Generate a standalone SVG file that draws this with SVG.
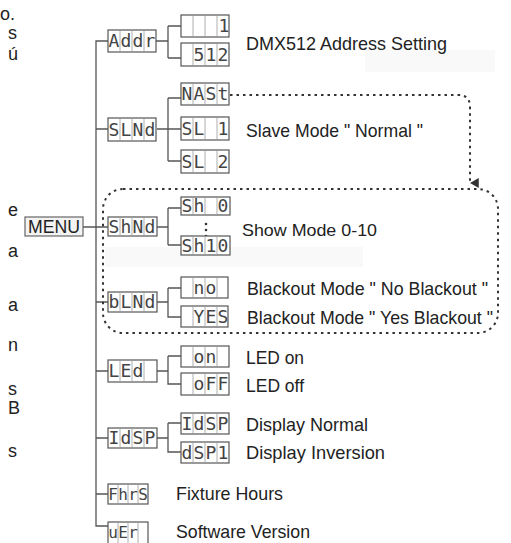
<svg xmlns="http://www.w3.org/2000/svg" width="511" height="543" viewBox="0 0 511 543">
<style>
.frame{fill:#fff;stroke:#555;stroke-width:1.2}
.div{fill:none;stroke:#999;stroke-width:0.8}
.seg{font-family:"DejaVu Sans Mono","Liberation Mono",monospace;font-size:18px;fill:#444;text-anchor:middle}
.segn{font-family:"DejaVu Sans Mono","Liberation Mono",monospace;font-size:16px;fill:#444;text-anchor:middle}
.lbl{font-family:"Liberation Sans",Arial,sans-serif;font-size:19px;fill:#222}
.frag{font-family:"Liberation Sans",Arial,sans-serif;font-size:18px;fill:#222}
.line{fill:none;stroke:#555;stroke-width:1.3}
.dot{fill:none;stroke:#333;stroke-width:2;stroke-dasharray:2.5 4}
</style>
<defs>
<marker id="ah" markerWidth="10" markerHeight="10" refX="4" refY="7" orient="auto" markerUnits="userSpaceOnUse" viewBox="0 0 8 8">
<path d="M0 0 L8 0 L4 7 Z" fill="#333"/>
</marker>
</defs>
<rect width="511" height="543" fill="#fff"/>
<g id="bg-marks" fill="#f9f9f9">
<rect x="365" y="50" width="130" height="22"/>
<rect x="105" y="247" width="258" height="20"/>
</g>
<g id="margin-fragments" class="frag">
<text x="0" y="20">o.</text>
<text x="8" y="39">s</text>
<text x="8" y="60">ú</text>
<text x="8" y="216">e</text>
<text x="8" y="257">a</text>
<text x="8" y="311">a</text>
<text x="8" y="351">n</text>
<text x="8" y="395">s</text>
<text x="8" y="414">B</text>
<text x="8" y="457">s</text>
</g>
<g id="connectors">
<path class="line" d="M108 41H96V526H108M96 129H108M83 227H108M96 302H108M96 371H108M96 438H108M96 494H108"/>
<path class="line" d="M156 41H168M168 26V58M168 26H181M168 58H181"/>
<path class="line" d="M157 129H181M168 98V161M168 98H181M168 161H181"/>
<path class="line" d="M157 227H168M168 208V245M168 208H181M168 245H181"/>
<path class="line" d="M157 302H168M168 288V317H181M168 288H181"/>
<path class="line" d="M157 371H168M168 356V384H181M168 356H181"/>
<path class="line" d="M157 438H168M168 423V452H181M168 423H181"/>
<path class="dot" d="M230 95H458Q470 95 470 107V183" marker-end="url(#ah)"/>
<rect class="dot" x="103" y="189" width="395" height="144" rx="20"/>
<g fill="#333"><circle cx="206" cy="224" r="1.3"/><circle cx="206" cy="230" r="1.3"/><circle cx="206" cy="236" r="1.3"/></g>
</g>
<g id="n-menu">
<rect x="25" y="217" width="58" height="19" fill="#f3f3f3" stroke="#666" stroke-width="1.2"/>
<text x="54" y="233" font-family="Liberation Sans,Arial,sans-serif" font-size="18" fill="#222" text-anchor="middle" textLength="52" lengthAdjust="spacingAndGlyphs">MENU</text>
</g>
<g id="n-addr">
<rect class="frame" x="108" y="30" width="48" height="22"/><path class="div" d="M120 30v22M132 30v22M144 30v22"/>
<text class="seg" x="114 126 138 150" y="47">Addr</text>
</g>
<g id="n-addr1">
<rect class="frame" x="181" y="15" width="48" height="22"/><path class="div" d="M193 15v22M205 15v22M217 15v22"/>
<text class="seg" x="224" y="32">1</text>
</g>
<g id="n-addr512">
<rect class="frame" x="181" y="43" width="48" height="23"/><path class="div" d="M193 43v23M205 43v23M217 43v23"/>
<text class="seg" x="199 211 223" y="61">512</text>
</g>
<g id="n-slnd">
<rect class="frame" x="108" y="118" width="48" height="23"/><path class="div" d="M120 118v23M132 118v23M144 118v23"/>
<text class="seg" x="114 126 138 150" y="136">SLNd</text>
</g>
<g id="n-nast">
<rect class="frame" x="181" y="83" width="48" height="22"/><path class="div" d="M193 83v22M205 83v22M217 83v22"/>
<text class="seg" x="187 199 211 223" y="100">NASt</text>
</g>
<g id="n-sl1">
<rect class="frame" x="181" y="117" width="48" height="23"/><path class="div" d="M193 117v23M205 117v23M217 117v23"/>
<text class="seg" x="187 199 211 223" y="135">SL 1</text>
</g>
<g id="n-sl2">
<rect class="frame" x="181" y="150" width="48" height="23"/><path class="div" d="M193 150v23M205 150v23M217 150v23"/>
<text class="seg" x="187 199 211 223" y="168">SL 2</text>
</g>
<g id="n-shnd">
<rect class="frame" x="108" y="217" width="49" height="19"/><path class="div" d="M120 217v19M132 217v19M144 217v19"/>
<text class="seg" x="114 126 138 150" y="233">ShNd</text>
</g>
<g id="n-sh0">
<rect class="frame" x="181" y="197" width="49" height="18"/><path class="div" d="M193 197v18M205 197v18M217 197v18"/>
<text class="seg" x="187 199 211 223" y="212">Sh 0</text>
</g>
<g id="n-sh10">
<rect class="frame" x="181" y="236" width="49" height="19"/><path class="div" d="M193 236v19M205 236v19M217 236v19"/>
<text class="seg" x="187 199 211 223" y="252">Sh10</text>
</g>
<g id="n-blnd">
<rect class="frame" x="108" y="292" width="49" height="20"/><path class="div" d="M120 292v20M132 292v20M144 292v20"/>
<text class="seg" x="114 126 138 150" y="308">bLNd</text>
</g>
<g id="n-no">
<rect class="frame" x="181" y="277" width="47" height="21"/><path class="div" d="M193 277v21M205 277v21M217 277v21"/>
<text class="seg" x="199 211" y="294">no</text>
</g>
<g id="n-yes">
<rect class="frame" x="181" y="306" width="47" height="21"/><path class="div" d="M193 306v21M205 306v21M217 306v21"/>
<text class="seg" x="199 211 223" y="323">YES</text>
</g>
<g id="n-led">
<rect class="frame" x="108" y="360" width="49" height="22"/><path class="div" d="M120 360v22M132 360v22M144 360v22"/>
<text class="seg" x="114 126 138" y="377">LEd</text>
</g>
<g id="n-on">
<rect class="frame" x="181" y="346" width="48" height="21"/><path class="div" d="M193 346v21M205 346v21M217 346v21"/>
<text class="seg" x="199 211" y="363">on</text>
</g>
<g id="n-off">
<rect class="frame" x="181" y="373" width="48" height="22"/><path class="div" d="M193 373v22M205 373v22M217 373v22"/>
<text class="seg" x="199 211 223" y="390">oFF</text>
</g>
<g id="n-idsp">
<rect class="frame" x="108" y="428" width="49" height="20"/><path class="div" d="M120 428v20M132 428v20M144 428v20"/>
<text class="seg" x="114 126 138 150" y="444">IdSP</text>
</g>
<g id="n-idsp2">
<rect class="frame" x="181" y="413" width="48" height="21"/><path class="div" d="M193 413v21M205 413v21M217 413v21"/>
<text class="seg" x="187 199 211 223" y="430">IdSP</text>
</g>
<g id="n-dsp1">
<rect class="frame" x="181" y="442" width="48" height="21"/><path class="div" d="M193 442v21M205 442v21M217 442v21"/>
<text class="seg" x="187 199 211 223" y="459">dSP1</text>
</g>
<g id="n-fhrs">
<rect class="frame" x="108" y="484" width="40" height="20"/><path class="div" d="M118 484v20M128 484v20M138 484v20"/>
<text class="segn" x="113 123 133 143" y="500">FhrS</text>
</g>
<g id="n-uer">
<rect class="frame" x="108" y="522" width="40" height="22"/><path class="div" d="M118 522v22M128 522v22M138 522v22"/>
<text class="segn" x="113 123 133" y="538">uEr</text>
</g>
<g id="labels" class="lbl">
<text x="246" y="50" textLength="201" lengthAdjust="spacingAndGlyphs">DMX512 Address Setting</text>
<text x="246" y="137" textLength="177" lengthAdjust="spacingAndGlyphs">Slave Mode " Normal "</text>
<text x="242" y="236" font-size="17" textLength="135" lengthAdjust="spacingAndGlyphs">Show  Mode 0-10</text>
<text x="247" y="295" textLength="241" lengthAdjust="spacingAndGlyphs">Blackout Mode " No Blackout "</text>
<text x="247" y="324" textLength="246" lengthAdjust="spacingAndGlyphs">Blackout Mode " Yes Blackout "</text>
<text x="246" y="364" textLength="58" lengthAdjust="spacingAndGlyphs">LED on</text>
<text x="246" y="392" textLength="58" lengthAdjust="spacingAndGlyphs">LED off</text>
<text x="246" y="431" textLength="122" lengthAdjust="spacingAndGlyphs">Display Normal</text>
<text x="246" y="459" textLength="139" lengthAdjust="spacingAndGlyphs">Display Inversion</text>
<text x="176" y="500" textLength="107" lengthAdjust="spacingAndGlyphs">Fixture Hours</text>
<text x="176" y="538" textLength="134" lengthAdjust="spacingAndGlyphs">Software Version</text>
</g>
</svg>
